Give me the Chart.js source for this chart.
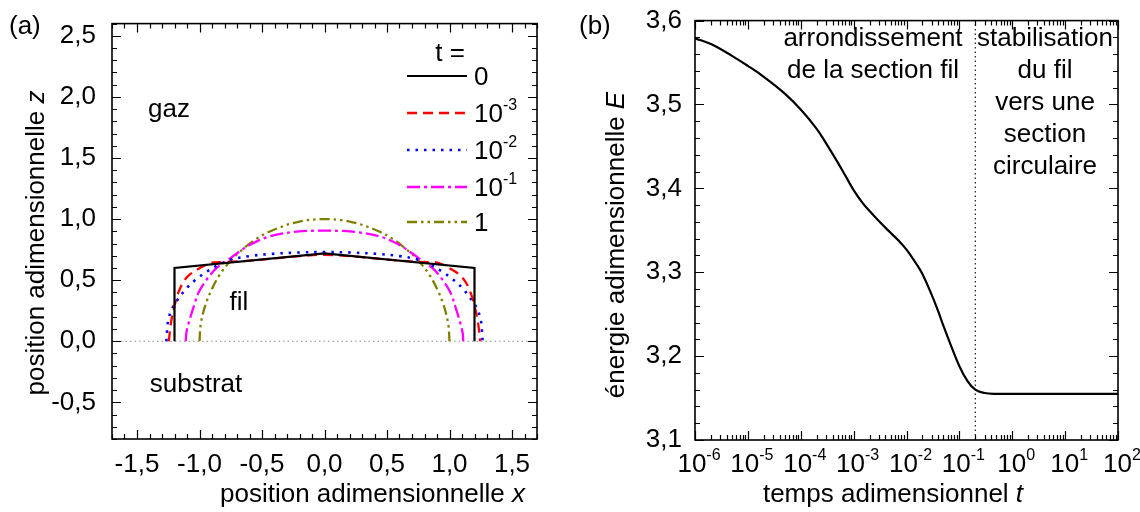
<!DOCTYPE html>
<html>
<head>
<meta charset="utf-8">
<script src="https://cdn.jsdelivr.net/npm/chart.js@4.4.1/dist/chart.umd.min.js"></script>
<style>
    html, body { margin: 0; padding: 0; background: #fff; }
    #wrap { position: relative; width: 1140px; height: 512px; }
    .panel { position: absolute; top: 0; width: 570px; height: 512px; }
</style>
</head>
<body>
<div id="wrap">
    <div class="panel" style="left:0"><canvas id="profileChart" width="570" height="512"></canvas></div>
    <div class="panel" style="left:570px"><canvas id="energyChart" width="570" height="512"></canvas></div>
</div>
<script>
/* ================= DATA (a) : profils du fil ================= */
const xTicksA = [-1.5, -1.0, -0.5, 0.0, 0.5, 1.0, 1.5];
const yTicksA = [-0.5, 0.0, 0.5, 1.0, 1.5, 2.0, 2.5];

const legendBase = ['0', '10', '10', '10', '1'];
const legendExp = ['', '-3', '-2', '-1', ''];

// t = 0
const x_t0 = [-1.2, -1.2, 0, 1.2, 1.2];
const z_t0 = [0, 0.6, 0.72, 0.6, 0];
// t = 10^-3
const x_t3 = [-1.245, -1.235, -1.222, -1.2, -1.175, -1.143, -1.1, -1.05, -1.0, -0.95, -0.89, -0.8, -0.6, -0.4, -0.2, 0,
              0.2, 0.4, 0.6, 0.8, 0.89, 0.95, 1.0, 1.05, 1.1, 1.143, 1.175, 1.2, 1.222, 1.235, 1.245];
const z_t3 = [0, 0.1, 0.19, 0.29, 0.38, 0.46, 0.525, 0.567, 0.597, 0.625, 0.645, 0.648, 0.66, 0.678, 0.697, 0.708,
              0.697, 0.678, 0.66, 0.648, 0.645, 0.625, 0.597, 0.567, 0.525, 0.46, 0.38, 0.29, 0.19, 0.1, 0];
// t = 10^-2
const x_t2 = [-1.265, -1.26, -1.249, -1.217, -1.169, -1.103, -1.017, -0.935, -0.845, -0.749, -0.6, -0.423, -0.2, 0,
              0.2, 0.423, 0.6, 0.749, 0.845, 0.935, 1.017, 1.103, 1.169, 1.217, 1.249, 1.26, 1.265];
const z_t2 = [0, 0.08, 0.18, 0.274, 0.349, 0.435, 0.515, 0.574, 0.627, 0.668, 0.697, 0.715, 0.727, 0.73,
              0.727, 0.715, 0.697, 0.668, 0.627, 0.574, 0.515, 0.435, 0.349, 0.274, 0.18, 0.08, 0];
// t = 10^-1
const x_t1 = [-1.11, -1.105, -1.089, -1.049, -1.009, -0.943, -0.863, -0.796, -0.7, -0.596, -0.436, -0.222, 0,
              0.222, 0.436, 0.596, 0.7, 0.796, 0.863, 0.943, 1.009, 1.049, 1.089, 1.105, 1.11];
const z_t1 = [0, 0.07, 0.141, 0.275, 0.395, 0.505, 0.6, 0.648, 0.72, 0.79, 0.86, 0.897, 0.905,
              0.897, 0.86, 0.79, 0.72, 0.648, 0.6, 0.505, 0.395, 0.275, 0.141, 0.07, 0];
// t = 1
const x_t10 = [-1.0, -0.99, -0.955, -0.9, -0.835, -0.755, -0.675, -0.55, -0.4, -0.2, 0,
               0.2, 0.4, 0.55, 0.675, 0.755, 0.835, 0.9, 0.955, 0.99, 1.0];
const z_t10 = [0, 0.14, 0.29, 0.43, 0.55, 0.655, 0.735, 0.835, 0.915, 0.98, 1.0,
               0.98, 0.915, 0.835, 0.735, 0.655, 0.55, 0.43, 0.29, 0.14, 0];
// interface fil / substrat
const x_base = [-1.7, 1.7];
const z_base = [0, 0];

/* ================= DATA (b) : énergie ================= */
const yTicksB = [3.1, 3.2, 3.3, 3.4, 3.5, 3.6];
const xDecadesB = [-6, -5, -4, -3, -2, -1, 0, 1, 2];

const timeT = [1e-6, 2e-6, 5e-6, 1e-5, 2e-5, 5e-5, 1e-4, 2e-4, 3e-4, 5e-4, 7e-4, 1e-3, 1.5e-3, 2e-3, 3e-3,
               5e-3, 7e-3, 1e-2, 1.5e-2, 2e-2, 3e-2, 4e-2, 5e-2, 7e-2, 0.1, 0.14, 0.2, 0.3, 0.5, 1, 10, 100];
const energyE = [3.579, 3.572, 3.558, 3.546, 3.533, 3.513, 3.494, 3.471, 3.454, 3.431, 3.415, 3.398, 3.382, 3.373, 3.361,
                 3.347, 3.338, 3.327, 3.311, 3.298, 3.273, 3.253, 3.236, 3.212, 3.188, 3.171, 3.160, 3.156, 3.155, 3.155, 3.155, 3.155];
// séparation des deux régimes
const phaseT = [0.2, 0.2];
const phaseE = [3.1, 3.6];

/* ================= HELPERS ================= */
const FAMILY = '"Liberation Sans", Arial, sans-serif';
const font = (size, style) => (style ? style + ' ' : '') + size + 'px ' + FAMILY;
const zip = (xs, ys) => xs.map((x, i) => ({ x: x, y: ys[i] }));
const comma = v => Number(v).toFixed(1).replace('.', ',');

function drawRich(ctx, parts, x, y, align) {
    let w = 0;
    parts.forEach(p => { ctx.font = p.font; w += ctx.measureText(p.text).width; });
    let cx = align === 'center' ? x - w / 2 : (align === 'right' ? x - w : x);
    ctx.textAlign = 'left';
    ctx.textBaseline = 'alphabetic';
    parts.forEach(p => {
        ctx.font = p.font;
        ctx.fillText(p.text, cx, y + (p.dy || 0));
        cx += ctx.measureText(p.text).width;
    });
}

function drawFrame(chart, xMajor, xMinor, yMajor, yMinor) {
    const ctx = chart.ctx, a = chart.chartArea;
    const xs = chart.scales.x, ys = chart.scales.y;
    ctx.save();
    ctx.strokeStyle = '#000';
    ctx.lineWidth = 1.2;
    ctx.beginPath();
    const vTicks = (vals, len) => vals.forEach(v => {
        const p = Math.round(xs.getPixelForValue(v)) + 0.5;
        ctx.moveTo(p, a.bottom); ctx.lineTo(p, a.bottom - len);
        ctx.moveTo(p, a.top); ctx.lineTo(p, a.top + len);
    });
    const hTicks = (vals, len) => vals.forEach(v => {
        const p = Math.round(ys.getPixelForValue(v)) + 0.5;
        ctx.moveTo(a.left, p); ctx.lineTo(a.left + len, p);
        ctx.moveTo(a.right, p); ctx.lineTo(a.right - len, p);
    });
    vTicks(xMajor, 9); vTicks(xMinor, 5);
    hTicks(yMajor, 9); hTicks(yMinor, 5);
    ctx.stroke();
    ctx.lineWidth = 1.6;
    ctx.strokeRect(a.left, a.top, a.right - a.left, a.bottom - a.top);
    ctx.restore();
}

const curveStyles = [
    { color: '#000000', dash: [], width: 2.2 },
    { color: '#ff0000', dash: [10, 6], width: 2.3 },
    { color: '#0000ff', dash: [2.5, 6], width: 2.6 },
    { color: '#ff00ff', dash: [13, 4, 3, 4], width: 2.3 },
    { color: '#808000', dash: [10, 4, 2.5, 4, 2.5, 4], width: 2.3 }
];

/* ================= PANEL (a) ================= */
const profiles = [zip(x_t0, z_t0), zip(x_t3, z_t3), zip(x_t2, z_t2), zip(x_t1, z_t1), zip(x_t10, z_t10)];

const profileDatasets = profiles.map((pts, i) => ({
    data: pts,
    showLine: true,
    borderColor: curveStyles[i].color,
    borderDash: curveStyles[i].dash,
    borderWidth: curveStyles[i].width,
    pointRadius: 0,
    tension: i === 0 ? 0 : 0.35,
    fill: false
}));
profileDatasets.push({
    data: zip(x_base, z_base),
    showLine: true,
    borderColor: '#8c8c8c',
    borderDash: [1.5, 3],
    borderWidth: 1.2,
    pointRadius: 0
});

const decorA = {
    id: 'decorA',
    afterDraw(chart) {
        const ctx = chart.ctx;
        const xMinor = [], yMinor = [];
        for (let i = -17; i <= 17; i++) if (i % 5) xMinor.push(i / 10);
        for (let i = -8; i <= 26; i++) if (i % 5) yMinor.push(i / 10);
        drawFrame(chart, xTicksA, xMinor, yTicksA, yMinor);

        ctx.save();
        ctx.fillStyle = '#000';
        drawRich(ctx, [{ text: '(a)', font: font(26) }], 9, 34, 'left');
        drawRich(ctx, [{ text: 'gaz', font: font(26) }], 169, 117, 'center');
        drawRich(ctx, [{ text: 'fil', font: font(26) }], 239, 310, 'center');
        drawRich(ctx, [{ text: 'substrat', font: font(26) }], 196, 392, 'center');
        drawRich(ctx, [{ text: 'position adimensionnelle ', font: font(26) }, { text: 'x', font: font(26, 'italic') }], 525, 502, 'right');
        ctx.save();
        ctx.translate(44, 243);
        ctx.rotate(-Math.PI / 2);
        drawRich(ctx, [{ text: 'position adimensionnelle ', font: font(26) }, { text: 'z', font: font(26, 'italic') }], 0, 0, 'center');
        ctx.restore();

        // légende
        drawRich(ctx, [{ text: 't =', font: font(26) }], 450, 61, 'center');
        const rows = [76, 113, 150, 187, 222];
        legendBase.forEach((b, i) => {
            const ds = chart.data.datasets[i];
            ctx.save();
            ctx.strokeStyle = ds.borderColor;
            ctx.lineWidth = ds.borderWidth;
            ctx.setLineDash(ds.borderDash);
            ctx.beginPath();
            ctx.moveTo(407, rows[i]);
            ctx.lineTo(467, rows[i]);
            ctx.stroke();
            ctx.restore();
            const parts = [{ text: b, font: font(26) }];
            if (legendExp[i]) parts.push({ text: legendExp[i], font: font(16), dy: -12 });
            drawRich(ctx, parts, 474, rows[i] + 9, 'left');
        });
        ctx.restore();
    }
};

new Chart(document.getElementById('profileChart'), {
    type: 'scatter',
    data: { datasets: profileDatasets },
    options: {
        responsive: false,
        animation: false,
        events: [],
        layout: { padding: { left: 0, right: 33, top: 15, bottom: 0 } },
        plugins: { legend: { display: false }, tooltip: { enabled: false } },
        scales: {
            x: {
                type: 'linear', min: -1.7, max: 1.7,
                grid: { display: false }, border: { display: false },
                afterBuildTicks: s => { s.ticks = xTicksA.map(v => ({ value: v })); },
                afterFit: s => { s.height = 73; },
                ticks: { callback: comma, color: '#000', padding: 2, maxRotation: 0, font: { family: FAMILY, size: 26 } }
            },
            y: {
                type: 'linear', min: -0.8, max: 2.6,
                grid: { display: false }, border: { display: false },
                afterBuildTicks: s => { s.ticks = yTicksA.map(v => ({ value: v })); },
                afterFit: s => { s.width = 112; },
                ticks: { callback: comma, color: '#000', padding: 8, font: { family: FAMILY, size: 26 } }
            }
        }
    },
    plugins: [decorA]
});

/* ================= PANEL (b) ================= */
const decorB = {
    id: 'decorB',
    afterDraw(chart) {
        const ctx = chart.ctx;
        const xMajor = xDecadesB.map(d => Math.pow(10, d));
        const xMinor = [];
        for (let d = -6; d < 2; d++) for (let m = 2; m <= 9; m++) xMinor.push(m * Math.pow(10, d));
        const yMinor = [];
        for (let i = 155; i <= 180; i++) if (i % 5) yMinor.push(i / 50);
        drawFrame(chart, xMajor, xMinor, yTicksB, yMinor);

        ctx.save();
        ctx.fillStyle = '#000';
        // étiquettes 10^n
        xDecadesB.forEach(d => {
            const px = chart.scales.x.getPixelForValue(Math.pow(10, d));
            drawRich(ctx, [{ text: '10', font: font(26) }, { text: String(d), font: font(16), dy: -12 }], px + 4, 472, 'center');
        });
        drawRich(ctx, [{ text: '(b)', font: font(26) }], 9, 34, 'left');
        drawRich(ctx, [{ text: 'temps adimensionnel ', font: font(26) }, { text: 't', font: font(26, 'italic') }], 323, 502, 'center');
        ctx.save();
        ctx.translate(54, 245);
        ctx.rotate(-Math.PI / 2);
        drawRich(ctx, [{ text: 'énergie adimensionnelle ', font: font(26) }, { text: 'E', font: font(26, 'italic') }], 0, 0, 'center');
        ctx.restore();

        const left = ['arrondissement', 'de la section fil'];
        left.forEach((s, i) => drawRich(ctx, [{ text: s, font: font(26) }], 303, 46 + i * 32, 'center'));
        const right = ['stabilisation', 'du fil', 'vers une', 'section', 'circulaire'];
        right.forEach((s, i) => drawRich(ctx, [{ text: s, font: font(26) }], 475, 46 + i * 32, 'center'));
        ctx.restore();
    }
};

new Chart(document.getElementById('energyChart'), {
    type: 'scatter',
    data: {
        datasets: [
            {
                data: zip(timeT, energyE),
                showLine: true,
                borderColor: '#000',
                borderWidth: 2.2,
                pointRadius: 0,
                tension: 0.4
            },
            {
                data: zip(phaseT, phaseE),
                showLine: true,
                borderColor: '#000',
                borderDash: [1.5, 3],
                borderWidth: 1.1,
                pointRadius: 0
            }
        ]
    },
    options: {
        responsive: false,
        animation: false,
        events: [],
        layout: { padding: { left: 0, right: 22, top: 15, bottom: 0 } },
        plugins: { legend: { display: false }, tooltip: { enabled: false } },
        scales: {
            x: {
                type: 'logarithmic', min: 1e-6, max: 100,
                grid: { display: false }, border: { display: false },
                ticks: { display: false },
                afterFit: s => { s.height = 72; }
            },
            y: {
                type: 'linear', min: 3.1, max: 3.6,
                grid: { display: false }, border: { display: false },
                afterBuildTicks: s => { s.ticks = yTicksB.map(v => ({ value: v })); },
                afterFit: s => { s.width = 125; },
                ticks: { callback: comma, color: '#000', padding: 5, font: { family: FAMILY, size: 26 } }
            }
        }
    },
    plugins: [decorB]
});
</script>
</body>
</html>
